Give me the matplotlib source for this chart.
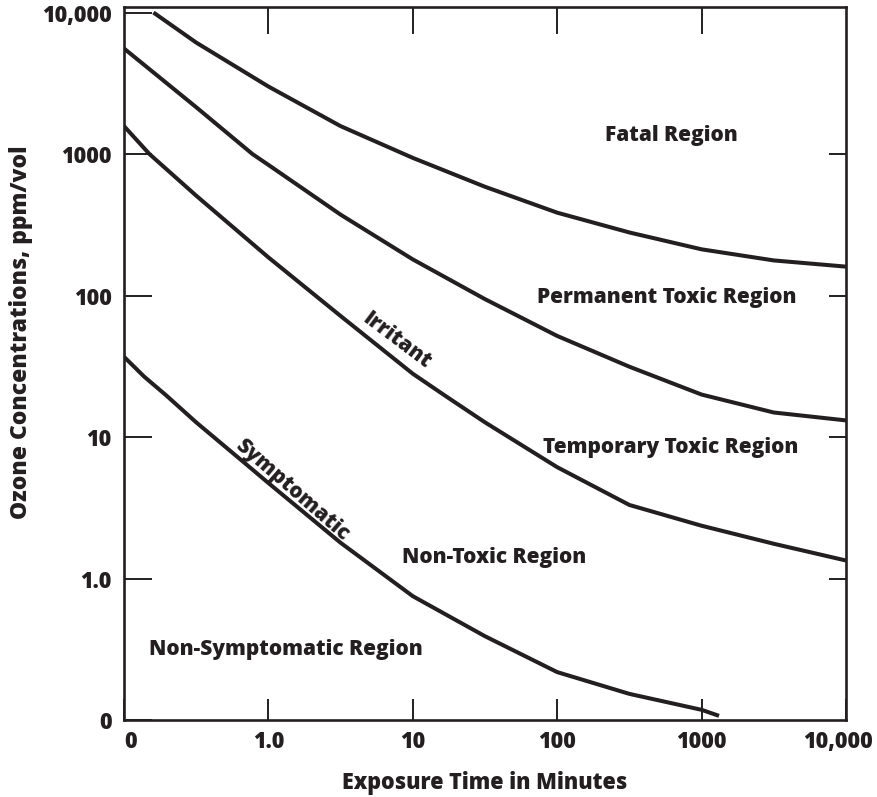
import matplotlib
matplotlib.use("Agg")
import matplotlib.pyplot as plt

# ---- data ----
fatal_x = [0.16, 0.316, 1.0, 3.16, 10, 31.6, 100, 316, 1000, 3160, 10000]
fatal_y = [10000, 6135, 3000, 1575, 939, 587, 385, 279, 212, 177, 160]

perm_x = [0.1, 0.316, 0.775, 1.0, 3.16, 10, 31.6, 100, 316, 1000, 3160, 10000]
perm_y = [5570, 2143, 1000, 838, 373, 180, 94.3, 51.8, 31.4, 19.95, 14.9, 13.1]

irr_x = [0.1, 0.15, 0.316, 1.0, 3.16, 10, 17.1, 31.6, 100, 316, 1000, 3160, 10000]
irr_y = [1575, 1000, 508, 186, 71.7, 28.0, 19.3, 12.7, 6.12, 3.31, 2.36, 1.76, 1.34]

sym_x = [0.1, 0.138, 0.197, 0.316, 0.70, 1.0, 3.16, 10, 31.6, 100, 316, 1000, 1320]
sym_y = [36.9, 26.7, 19.6, 12.7, 6.43, 4.73, 1.79, 0.75, 0.391, 0.218, 0.153, 0.118, 0.107]

x_ticks = [0.1, 1, 10, 100, 1000, 10000]
x_tick_labels = ["0", "1.0", "10", "100", "1000", "10,000"]
y_ticks = [0.1, 1, 10, 100, 1000, 10000]
y_tick_labels = ["0", "1.0", "10", "100", "1000", "10,000"]
inner_ticks = [1, 10, 100, 1000]

region_labels = ["Fatal Region", "Permanent Toxic Region", "Temporary Toxic Region",
                 "Non-Toxic Region", "Non-Symptomatic Region"]
region_x = [618, 570, 608, 36.7, 1.33]
region_y = [1362, 97.5, 8.47, 1.405, 0.317]

curve_labels = ["Irritant", "Symptomatic"]
curve_label_x = [7.7, 1.47]
curve_label_y = [47.8, 4.22]
curve_label_rot = [-37, -41]

# ---- style ----
INK = "#231f20"
FONT = "Open Sans"
WEIGHT = "heavy"
plt.rcParams["font.family"] = [FONT, "DejaVu Sans"]
plt.rcParams["font.weight"] = WEIGHT

fig = plt.figure(figsize=(8.77, 7.97), dpi=100)
ax = fig.add_axes([124 / 877, 77 / 797, 722 / 877, 713 / 797])
ax.set_xscale("log")
ax.set_yscale("log")
ax.set_xlim(0.1, 10000)
ax.set_ylim(0.1, 10 ** 4.039)

for xs, ys in [(fatal_x, fatal_y), (perm_x, perm_y), (irr_x, irr_y), (sym_x, sym_y)]:
    ax.plot(xs, ys, color=INK, lw=2.9, solid_capstyle="butt", solid_joinstyle="round")

for s in ax.spines.values():
    s.set_color(INK)
    s.set_linewidth(1.9)

ax.minorticks_off()
ax.set_xticks(x_ticks)
# end labels are placed separately (small offsets so they stay inside the figure)
ax.set_xticklabels([""] + x_tick_labels[1:-1] + [""])
ax.set_yticks(y_ticks)
ax.set_yticklabels(y_tick_labels)
ax.tick_params(axis="x", which="major", direction="in", length=15, width=1.4, color=INK,
               labelsize=15.5, labelcolor=INK, pad=7)
ax.tick_params(axis="y", which="major", direction="in", length=20, width=1.4, color=INK,
               labelsize=15.5, labelcolor=INK, pad=9)
for lab in ax.get_xticklabels() + ax.get_yticklabels():
    lab.set_fontweight(WEIGHT)

for val, lab, dx in [(x_ticks[0], x_tick_labels[0], 4.5), (x_ticks[-1], x_tick_labels[-1], -6)]:
    ax.annotate(lab, xy=(val, 0), xycoords=ax.get_xaxis_transform(),
                xytext=(dx, -7), textcoords="offset points", ha="center", va="top",
                fontsize=15.5, fontweight=WEIGHT, color=INK, annotation_clip=False)

secx = ax.secondary_xaxis("top")
secx.set_xticks(inner_ticks)
secx.set_xticklabels([])
secx.minorticks_off()
secx.tick_params(direction="in", length=19.5, width=1.4, color=INK)
secx.spines["top"].set_visible(False)

secy = ax.secondary_yaxis("right")
secy.set_yticks(inner_ticks)
secy.set_yticklabels([])
secy.minorticks_off()
secy.tick_params(direction="in", length=12, width=1.4, color=INK)
secy.spines["right"].set_visible(False)

for txt, x, y in zip(region_labels, region_x, region_y):
    ax.text(x, y, txt, ha="center", va="center", fontsize=15, fontweight=WEIGHT, color=INK)

for txt, x, y, r in zip(curve_labels, curve_label_x, curve_label_y, curve_label_rot):
    ax.text(x, y, txt, ha="center", va="center", fontsize=15, fontweight=WEIGHT, color=INK,
            rotation=r, rotation_mode="anchor")

fig.text(485 / 877, 1 - 783 / 797, "Exposure Time in Minutes", ha="center", va="center",
         fontsize=15.5, fontweight=WEIGHT, color=INK)
fig.text(21 / 877, 1 - 332 / 797, "Ozone Concentrations, ppm/vol", ha="center", va="center",
         rotation=90, fontsize=16.5, fontweight=WEIGHT, color=INK)

fig.savefig("out.png", dpi=100)
